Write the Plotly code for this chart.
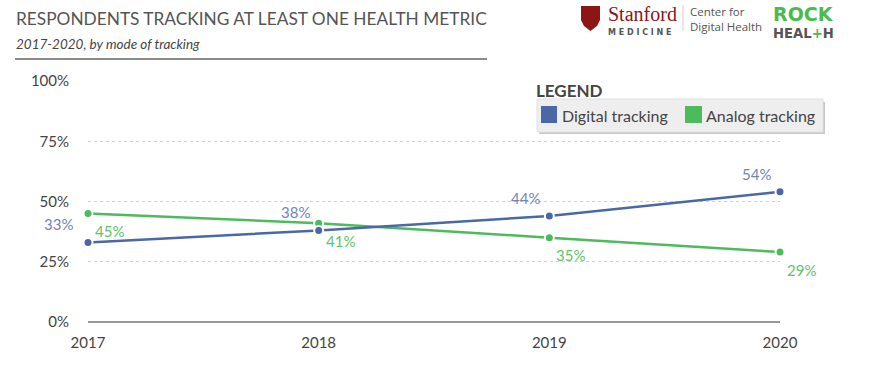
import plotly.graph_objects as go

# ---- data ----
years = [2017, 2018, 2019, 2020]
digital = [33, 38, 44, 54]
analog = [45, 41, 35, 29]
digital_labels = ["33%", "38%", "44%", "54%"]
analog_labels = ["45%", "41%", "35%", "29%"]
y_ticks = [0, 25, 50, 75, 100]
y_tick_text = ["0%", "25%", "50%", "75%", "100%"]

W, H = 887, 369
L, R, T, B = 88, 780, 81, 322  # plot area in pixels


def px(x):
    return (x - L) / (R - L)


def py(y):
    return (B - y) / (B - T)


BLUE = "#4a68a6"
BLUE_LBL = "#6f86ba"
GREEN = "#4dbb5c"
GREEN_LBL = "#5cc46c"
FONT = "Lato"

fig = go.Figure()
fig.add_trace(go.Scatter(
    x=years, y=analog, mode="lines+markers",
    line=dict(color=GREEN, width=2.5),
    marker=dict(size=9, color=GREEN, line=dict(color="white", width=2)),
    cliponaxis=False, showlegend=False, hoverinfo="skip"))
fig.add_trace(go.Scatter(
    x=years, y=digital, mode="lines+markers",
    line=dict(color=BLUE, width=2.5),
    marker=dict(size=9, color=BLUE, line=dict(color="white", width=2)),
    cliponaxis=False, showlegend=False, hoverinfo="skip"))

shapes = []
annotations = []

# value labels anchored to data points
for i, (yr, v, lbl) in enumerate(zip(years, digital, digital_labels)):
    annotations.append(dict(x=yr, y=v, xref="x", yref="y", text=lbl, showarrow=False,
                            xanchor="right", yanchor="middle",
                            xshift=-13 if i == 0 else -7, yshift=18,
                            font=dict(family=FONT, size=15, color=BLUE_LBL)))
for yr, v, lbl in zip(years, analog, analog_labels):
    annotations.append(dict(x=yr, y=v, xref="x", yref="y", text=lbl, showarrow=False,
                            xanchor="left", yanchor="middle", xshift=5, yshift=-17.5,
                            font=dict(family=FONT, size=15, color=GREEN_LBL)))

# header rule
shapes.append(dict(type="line", xref="paper", yref="paper", x0=px(15), x1=px(487),
                   y0=py(59), y1=py(59), line=dict(color="#666", width=1.5)))

annotations.append(dict(text="RESPONDENTS TRACKING AT LEAST ONE HEALTH METRIC",
                        xref="paper", yref="paper", x=px(14), y=py(18), xanchor="left", yanchor="middle",
                        showarrow=False, font=dict(family=FONT, size=17.3, color="#555")))
annotations.append(dict(text="<i>2017-2020, by mode of tracking</i>",
                        xref="paper", yref="paper", x=px(14), y=py(44), xanchor="left", yanchor="middle",
                        showarrow=False, font=dict(family=FONT, size=13.5, color="#444")))

# legend (manual)
shapes.append(dict(type="rect", xref="paper", yref="paper", x0=px(539), x1=px(825),
                   y0=py(102), y1=py(134), fillcolor="#c8c8c8", line=dict(width=0), layer="above"))
shapes.append(dict(type="rect", xref="paper", yref="paper", x0=px(537), x1=px(823),
                   y0=py(99), y1=py(132), fillcolor="#eeeeee", line=dict(color="#e0e0e0", width=1), layer="above"))
shapes.append(dict(type="rect", xref="paper", yref="paper", x0=px(541), x1=px(557),
                   y0=py(106), y1=py(123), fillcolor=BLUE, line=dict(width=0), layer="above"))
shapes.append(dict(type="rect", xref="paper", yref="paper", x0=px(685), x1=px(702),
                   y0=py(106), y1=py(123), fillcolor=GREEN, line=dict(width=0), layer="above"))
annotations.append(dict(text="<b>LEGEND</b>", xref="paper", yref="paper", x=px(534), y=py(90),
                        xanchor="left", yanchor="middle", showarrow=False,
                        font=dict(family=FONT, size=17, color="#444")))
annotations.append(dict(text="Digital tracking", xref="paper", yref="paper", x=px(560), y=py(115),
                        xanchor="left", yanchor="middle", showarrow=False,
                        font=dict(family=FONT, size=16, color="#444")))
annotations.append(dict(text="Analog tracking", xref="paper", yref="paper", x=px(704), y=py(115),
                        xanchor="left", yanchor="middle", showarrow=False,
                        font=dict(family=FONT, size=16, color="#444")))

# logos
shield = [(581, 6), (600, 6), (600, 20), (597, 26), (590.5, 31), (584, 26), (581, 20)]
path = "M " + " L ".join(f"{px(a):.5f},{py(b):.5f}" for a, b in shield) + " Z"
shapes.append(dict(type="path", xref="paper", yref="paper", path=path,
                   fillcolor="#8c1515", line=dict(width=0)))
annotations.append(dict(
    text="<span style='font-family:Liberation Serif;font-size:20px;color:#8c1515'>Stanford</span><br>"
         "<span style='font-size:8px'><b>M E D I C I N E</b></span>",
    xref="paper", yref="paper", x=px(606), y=py(20), xanchor="left", yanchor="middle",
    align="left", showarrow=False,
    font=dict(family="DejaVu Sans", size=10.5, color="#555")))
shapes.append(dict(type="line", xref="paper", yref="paper", x0=px(683), x1=px(683),
                   y0=py(5), y1=py(31), line=dict(color="#ccc", width=1)))
annotations.append(dict(text="Center for<br>Digital Health", xref="paper", yref="paper", x=px(688), y=py(19),
                        xanchor="left", yanchor="middle", align="left", showarrow=False,
                        font=dict(family="Open Sans", size=11.5, color="#555")))
annotations.append(dict(
    text="<span style='font-size:19px;color:#4cbb4f'><b>ROCK</b></span><br>"
         "<b>HEAL<span style='color:#4cbb4f'>+</span>H</b>",
    xref="paper", yref="paper", x=px(771), y=py(22), xanchor="left", yanchor="middle",
    align="left", showarrow=False,
    font=dict(family="DejaVu Sans", size=13.2, color="#555")))

fig.update_layout(
    width=W, height=H,
    margin=dict(l=L, r=W - R, t=T, b=H - B, autoexpand=False),
    paper_bgcolor="white", plot_bgcolor="white",
    shapes=shapes, annotations=annotations,
    xaxis=dict(range=[2017, 2020], tickvals=years, ticktext=[str(y) for y in years],
               showgrid=False, zeroline=False, showline=False,
               tickfont=dict(family=FONT, size=15, color="#444"), ticklabelstandoff=10),
    yaxis=dict(range=[0, 100], tickvals=y_ticks, ticktext=y_tick_text,
               showgrid=True, gridcolor="#d0d0d0", griddash="dot", gridwidth=1,
               zeroline=True, zerolinecolor="#999", zerolinewidth=1.5,
               showline=False, tickfont=dict(family=FONT, size=15, color="#444"),
               ticklabelstandoff=18),
    hovermode=False,
)

fig.write_html("out.html", config={"displayModeBar": False, "staticPlot": True},
               post_script="document.body.style.margin='0px';")
